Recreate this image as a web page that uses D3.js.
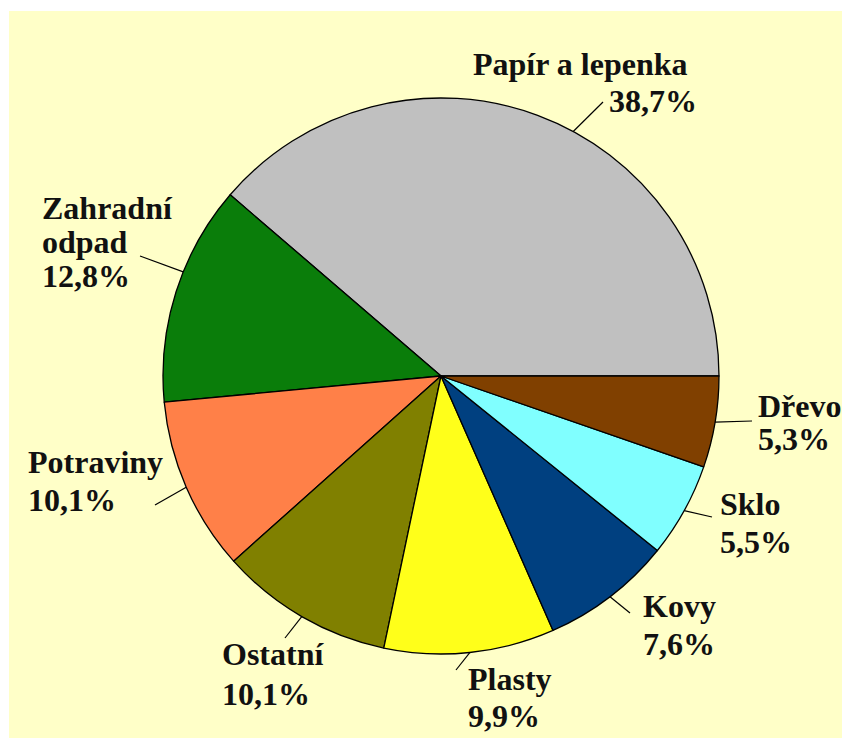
<!DOCTYPE html>
<html>
<head>
<meta charset="utf-8">
<script src="https://cdn.jsdelivr.net/npm/d3@7/dist/d3.min.js"></script>
<style>
  html, body { margin: 0; padding: 0; background: #ffffff; }
  svg { display: block; }
  .lbl { font-family: "Liberation Serif", "Times New Roman", serif; font-weight: bold; font-size: 32px; fill: #111; }
</style>
</head>
<body>
<svg id="chart" width="842" height="740"></svg>
<script>
// Složení komunálního odpadu (podíl v %)
const categories = ["Papír a lepenka", "Zahradní odpad", "Potraviny", "Ostatní", "Plasty", "Kovy", "Sklo", "Dřevo"];
const shares = [38.7, 12.8, 10.1, 10.1, 9.9, 7.6, 5.5, 5.3];
const colors = ["#c0c0c0", "#0a7d0a", "#ff8048", "#808000", "#ffff1a", "#004080", "#80ffff", "#804000"];

// Label placement: left x of each text line, first baseline, line step,
// leader end point and (optionally) the angle where the leader meets the rim.
const labelLayout = [
  { xs: [473, 609], y: 75,  dy: 37, end: [603, 102], rimDeg: 61.6 },
  { xs: [42, 42, 42], y: 219, dy: 34, end: [140, 256], rimDeg: 158, wrap: true },
  { xs: [28, 28], y: 473, dy: 38, end: [155, 505] },
  { xs: [222, 222], y: 665, dy: 40, end: [285, 638] },
  { xs: [468, 468], y: 690, dy: 37, end: [456, 670] },
  { xs: [643, 643], y: 617, dy: 38, end: [630, 613] },
  { xs: [720, 720], y: 515, dy: 38, end: [712, 517] },
  { xs: [758, 758], y: 417, dy: 33, end: [752, 421] }
];

const cz = d3.formatLocale({ decimal: ",", thousands: "\u00a0", grouping: [3], currency: ["", " Kč"] });
const fmt = v => cz.format(".1f")(v) + "%";

const svg = d3.select("#chart");
const W = 842, H = 740;
const cx = 441, cy = 376, R = 278;

// pale yellow panel
svg.append("rect").attr("x", 9).attr("y", 11).attr("width", W - 9).attr("height", 727).attr("fill", "#ffffc8");

const data = categories.map((c, i) => ({ name: c, value: shares[i], color: colors[i], layout: labelLayout[i] }));

// slices start at 3 o'clock and run counter-clockwise
const pie = d3.pie().value(d => d.value).sort(null)
  .startAngle(Math.PI / 2).endAngle(Math.PI / 2 - 2 * Math.PI);
const arc = d3.arc().innerRadius(0).outerRadius(R);

const g = svg.append("g").attr("transform", `translate(${cx},${cy})`);
const arcs = pie(data);

g.selectAll("path.slice").data(arcs).join("path")
  .attr("class", "slice")
  .attr("d", arc)
  .attr("fill", d => d.data.color)
  .attr("stroke", "#000")
  .attr("stroke-width", 1.3)
  .attr("stroke-linejoin", "round");

// leader lines
const rimPoint = (d) => {
  const a = d.data.layout.rimDeg != null
    ? Math.PI / 2 - d.data.layout.rimDeg * Math.PI / 180
    : (d.startAngle + d.endAngle) / 2;
  return [cx + R * Math.sin(a), cy - R * Math.cos(a)];
};

svg.selectAll("line.leader").data(arcs).join("line")
  .attr("class", "leader")
  .attr("x1", d => rimPoint(d)[0])
  .attr("y1", d => rimPoint(d)[1])
  .attr("x2", d => d.data.layout.end[0])
  .attr("y2", d => d.data.layout.end[1])
  .attr("stroke", "#000")
  .attr("stroke-width", 1.2);

// labels: name (optionally wrapped) + share
const labels = svg.selectAll("text.lbl").data(arcs).join("text").attr("class", "lbl");
labels.each(function (d) {
  const L = d.data.layout;
  const lines = (L.wrap ? d.data.name.split(" ") : [d.data.name]).concat([fmt(d.data.value)]);
  d3.select(this).selectAll("tspan").data(lines).join("tspan")
    .attr("x", (s, i) => L.xs[i])
    .attr("y", (s, i) => L.y + i * L.dy)
    .text(s => s);
});
</script>
</body>
</html>
